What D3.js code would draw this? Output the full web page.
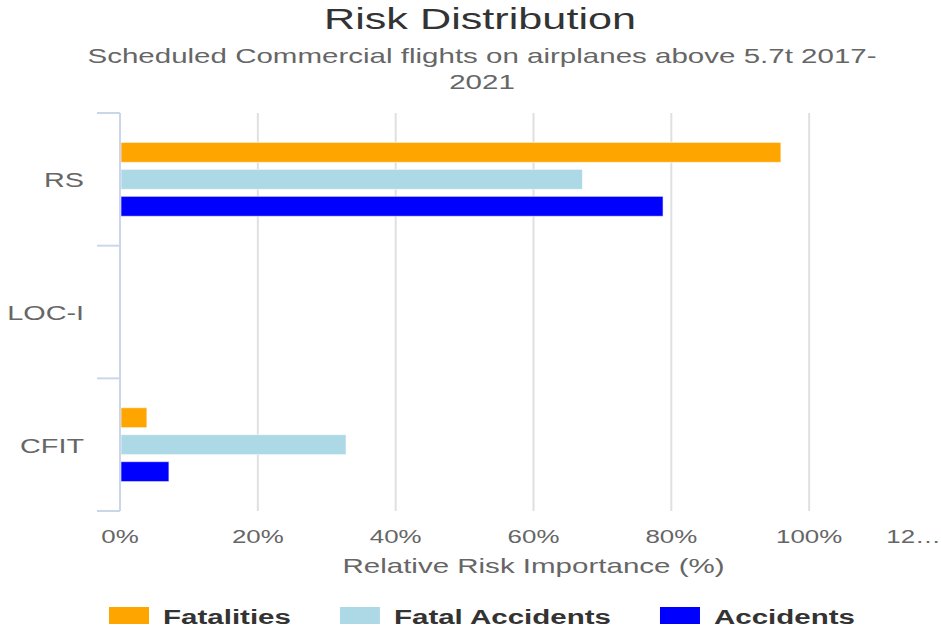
<!DOCTYPE html>
<html>
<head>
<meta charset="utf-8">
<script src="https://cdn.jsdelivr.net/npm/d3@7"></script>
<style>
  body { margin: 0; background: #fff; }
  svg { display: block; font-family: "Liberation Sans", Arial, sans-serif; }
</style>
</head>
<body>
<div id="viz"></div>
<script>
// data
const categories = ["RS", "LOC-I", "CFIT"]
const seriesNames = ["Fatalities", "Fatal Accidents", "Accidents"]
const seriesColors = ["#FFA500", "#ADD8E6", "#0000FF"]
const fatalities = [95.9, null, 3.9]
const fatalAccidents = [67.1, null, 32.8]
const accidents = [78.8, null, 7.1]
const xTicks = [0, 20, 40, 60, 80, 100, 120]

const width = 941
const height = 629
const SX = 1.44 // picture is stretched sideways, so text is too

const series = [fatalities, fatalAccidents, accidents]

const svg = d3.select("#viz").append("svg")
    .attr("width", width)
    .attr("height", height)

// helper: text drawn at (x,y) and widened like the reference
function label(x, y, txt, size, color, anchor, weight) {
    return svg.append("text")
        .attr("transform", "translate(" + x + "," + y + ") scale(" + SX + ",1)")
        .attr("text-anchor", anchor || "middle")
        .style("font-size", size + "px")
        .style("font-weight", weight || "normal")
        .style("fill", color)
        .text(txt)
}

const x = d3.scaleLinear()
    .domain([0, 120])
    .range([120, 947])

const y = d3.scaleBand()
    .domain(categories)
    .range([113, 511])

const inner = d3.scaleBand()
    .domain(d3.range(series.length))
    .range([0, y.bandwidth()])
    .paddingInner(0.26)
    .paddingOuter(1.09)

// title and subtitle
label(480, 29, "Risk Distribution", 30, "#333333")
label(482, 63, "Scheduled Commercial flights on airplanes above 5.7t 2017-", 20.5, "#666666")
label(482, 89, "2021", 20.5, "#666666")

// grid lines
svg.append("g").selectAll("line")
    .data(xTicks.filter(d => d > 0))
    .enter().append("line")
    .attr("x1", d => x(d)).attr("x2", d => x(d))
    .attr("y1", 113).attr("y2", 511)
    .attr("stroke", "#e0e0e0")
    .attr("stroke-width", 2)

// bars
series.forEach(function(vals, i) {
    svg.append("g").selectAll("rect")
        .data(categories.map((c, j) => ({ cat: c, v: vals[j] })).filter(d => d.v != null))
        .enter().append("rect")
        .attr("x", x(0) + 1)
        .attr("y", d => y(d.cat) + inner(i))
        .attr("width", d => x(d.v) - x(0) - 1)
        .attr("height", inner.bandwidth())
        .attr("fill", seriesColors[i])
        .attr("stroke", "#ffffff")
        .attr("stroke-opacity", 0.6)
        .attr("stroke-width", 1)
})

// category axis: line plus tick marks at band edges
svg.append("line")
    .attr("x1", x(0)).attr("x2", x(0))
    .attr("y1", 113).attr("y2", 511)
    .attr("stroke", "#ccd6eb").attr("stroke-width", 2)

const edges = categories.map(c => y(c)).concat([y.range()[1]])
svg.append("g").selectAll("line")
    .data(edges)
    .enter().append("line")
    .attr("x1", 97).attr("x2", x(0))
    .attr("y1", d => d).attr("y2", d => d)
    .attr("stroke", "#ccd6eb").attr("stroke-width", 2)

categories.forEach(function(c) {
    label(84, y(c) + y.bandwidth() / 2 + 8, c, 20, "#666666", "end")
})

// value axis labels
xTicks.forEach(function(t) {
    if (t === 120) {
        label(941, 543, "12\u2026", 18, "#666666", "end")
    } else {
        label(x(t), 543, t + "%", 18, "#666666")
    }
})
label((x(0) + x(120)) / 2, 573, "Relative Risk Importance (%)", 20.5, "#666666")

// legend
let cursor = 109
seriesNames.forEach(function(name, i) {
    svg.append("rect")
        .attr("x", cursor).attr("y", 607)
        .attr("width", 40).attr("height", 17)
        .attr("fill", seriesColors[i])
    const t = label(cursor + 54, 624, name, 20.5, "#333333", "start", "bold")
    cursor += 54 + t.node().getComputedTextLength() * SX + 49
})
</script>
</body>
</html>
